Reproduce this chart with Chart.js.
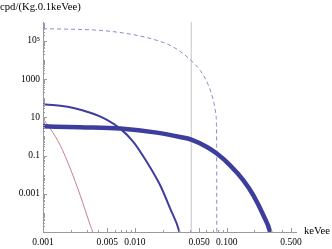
<!DOCTYPE html>
<html lang="en">
<head>
<meta charset="UTF-8">
<title>cpd spectrum</title>
<script src="https://cdn.jsdelivr.net/npm/chart.js"></script>
<style>
  html, body { margin: 0; padding: 0; background: #fff; }
  #wrap { width: 332px; height: 249px; }
</style>
</head>
<body>
<div id="wrap"><canvas id="grafico"></canvas></div>
<script>
// values (keVee, cpd/(Kg.0.1keVee))
var grossoX = [0.001, 0.00254, 0.00692, 0.0173, 0.031, 0.041, 0.0607, 0.0778, 0.1086, 0.1515, 0.1946, 0.25, 0.296, 0.31]
var grossoY = [3.37, 2.98, 2.55, 1.57, 0.93, 0.678, 0.278, 0.126, 0.0307, 0.00505, 8.3e-4, 7.5e-5, 1e-5, 3e-6]

var medioX = [0.001, 0.00154, 0.00215, 0.00327, 0.00496, 0.00692, 0.00966, 0.0135, 0.01884, 0.0242, 0.0305, 0.032]
var medioY = [47.5, 39.7, 30.5, 17.1, 7.36, 2.55, 0.508, 0.0457, 0.00277, 1.67e-4, 1e-5, 3e-6]

var rosaX = [0.001, 0.0012, 0.00154, 0.00198, 0.00254, 0.00327, 0.00346, 0.0036]
var rosaY = [8.5, 2.55, 0.341, 0.0207, 8.3e-4, 2.2e-5, 1e-5, 3e-6]

var tracejadoX = [0.001, 0.0042, 0.00752, 0.01142, 0.0159, 0.0242, 0.0324, 0.0399, 0.0513, 0.0631, 0.0715, 0.0759, 0.0775, 0.0778, 0.0779]
var tracejadoY = [4.3e5, 3.5e5, 2.54e5, 1.77e5, 1.19e5, 5.78e4, 2.4e4, 1.03e4, 2850, 469, 77, 15.5, 0.62, 1e-5, 1e-6]

var linhaX = 0.041

var xMin = 0.001, xMax = 0.566
var yMin = 1e-5, yMax = 9.6e5

var xTicksMaiores = [0.001, 0.005, 0.01, 0.05, 0.1, 0.5]
var xTicksTexto = ['0.001', '0.005', '0.010', '0.050', '0.100', '0.500']
var yTicksMaiores = [1e5, 1000, 10, 0.1, 0.001]
var yTicksTexto = ['10\u2075', '1000', '10', '0.1', '0.001']

function pontos(xs, ys) {
  var lista = []
  for (var i = 0; i < xs.length; i++) lista.push({x: xs[i], y: ys[i]})
  return lista
}

// minor ticks 1..9 x each decade inside the range
function ticksLog(min, max) {
  var lista = []
  for (var e = Math.floor(Math.log10(min)); e <= Math.ceil(Math.log10(max)); e++) {
    for (var m = 1; m <= 9; m++) {
      var v = m * Math.pow(10, e)
      if (v >= min * 0.999 && v <= max * 1.001) lista.push(v)
    }
  }
  return lista
}

function rotulo(v, maiores, textos) {
  for (var i = 0; i < maiores.length; i++) {
    if (Math.abs(v / maiores[i] - 1) < 1e-6) return textos[i]
  }
  return ''
}

var fonteSerif = '"Liberation Serif", "Times New Roman", serif'

// inward tick marks + axis titles, like the original plot
var extras = {
  id: 'extras',
  afterDraw: function (chart) {
    var ctx = chart.ctx
    var a = chart.chartArea
    var sx = chart.scales.x, sy = chart.scales.y
    ctx.save()
    ctx.strokeStyle = '#9a9a9a'
    ctx.lineWidth = 1
    sx.ticks.forEach(function (t) {
      var p = Math.round(sx.getPixelForValue(t.value)) + 0.5
      var len = rotulo(t.value, xTicksMaiores, xTicksTexto) ? 4 : 2
      ctx.beginPath(); ctx.moveTo(p, a.bottom); ctx.lineTo(p, a.bottom - len); ctx.stroke()
    })
    sy.ticks.forEach(function (t) {
      var p = Math.round(sy.getPixelForValue(t.value)) + 0.5
      var len = rotulo(t.value, yTicksMaiores, yTicksTexto) ? 4 : 2
      ctx.beginPath(); ctx.moveTo(a.left, p); ctx.lineTo(a.left + len, p); ctx.stroke()
    })
    ctx.fillStyle = '#000'
    ctx.font = '10.7px ' + fonteSerif
    ctx.textAlign = 'left'
    ctx.textBaseline = 'alphabetic'
    ctx.fillText('cpd/(Kg.0.1keVee)', 0, 10)
    ctx.textBaseline = 'middle'
    ctx.fillText('keVee', 304, 231)
    ctx.restore()
  }
}

const ctx = document.getElementById('grafico')

new Chart(ctx, {
  type: 'scatter',
  data: {
    datasets: [
      {
        data: pontos(grossoX, grossoY),
        showLine: true, borderColor: '#3d3d9e', borderWidth: 4.5,
        pointRadius: 0, cubicInterpolationMode: 'monotone'
      },
      {
        data: pontos(medioX, medioY),
        showLine: true, borderColor: '#3d3d9e', borderWidth: 2,
        pointRadius: 0, cubicInterpolationMode: 'monotone'
      },
      {
        data: pontos(rosaX, rosaY),
        showLine: true, borderColor: '#c47ba0', borderWidth: 1,
        pointRadius: 0, cubicInterpolationMode: 'monotone'
      },
      {
        data: pontos(tracejadoX, tracejadoY),
        showLine: true, borderColor: '#8a8ad8', borderWidth: 1, borderDash: [4, 3],
        pointRadius: 0, cubicInterpolationMode: 'monotone'
      },
      {
        data: [{x: linhaX, y: yMin}, {x: linhaX, y: yMax}],
        showLine: true, borderColor: '#c4c4c4', borderWidth: 1,
        pointRadius: 0
      }
    ]
  },
  options: {
    responsive: true,
    maintainAspectRatio: false,
    animation: false,
    events: [],
    layout: { padding: { top: 22, right: 36, left: 0, bottom: 0 } },
    plugins: { legend: { display: false }, tooltip: { enabled: false } },
    scales: {
      x: {
        type: 'logarithmic', min: xMin, max: xMax,
        grid: { display: false, drawTicks: false },
        border: { display: true, color: '#9a9a9a', width: 1 },
        ticks: {
          autoSkip: false, maxRotation: 0, padding: 5, color: '#000',
          font: { family: fonteSerif, size: 9.5 },
          callback: function (v) { return rotulo(v, xTicksMaiores, xTicksTexto) }
        },
        afterBuildTicks: function (s) { s.ticks = ticksLog(xMin, xMax).map(function (v) { return {value: v} }) },
        afterFit: function (s) { s.height = 17; s.paddingLeft = 0; s.paddingRight = 0 }
      },
      y: {
        type: 'logarithmic', min: yMin, max: yMax,
        grid: { display: false, drawTicks: false },
        border: { display: true, color: '#9a9a9a', width: 1 },
        ticks: {
          autoSkip: false, padding: 3, color: '#000',
          font: { family: fonteSerif, size: 9.5 },
          callback: function (v) { return rotulo(v, yTicksMaiores, yTicksTexto) }
        },
        afterBuildTicks: function (s) { s.ticks = ticksLog(yMin, yMax).map(function (v) { return {value: v} }) },
        afterFit: function (s) { s.width = 43; s.paddingTop = 0; s.paddingBottom = 0 }
      }
    }
  },
  plugins: [extras]
})
</script>
</body>
</html>
